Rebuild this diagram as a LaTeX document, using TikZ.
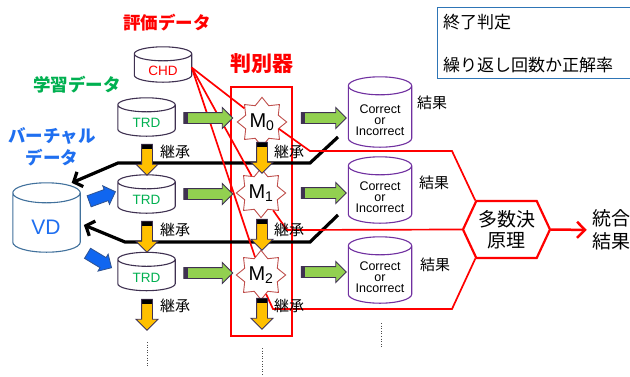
\documentclass[tikz,border=0pt]{standalone}
\usepackage{fontspec}
\setmainfont{Liberation Sans}
\newfontfamily\jp{Noto Sans CJK JP}
\usetikzlibrary{shapes.geometric,shapes.arrows,shapes.symbols,arrows.meta,calc}
\pgfdeclarelayer{bg}
\pgfsetlayers{bg,main}
\definecolor{cgreen}{HTML}{00B050}
\definecolor{cblue}{HTML}{1F6FF0}
\definecolor{cylpurple}{HTML}{3F3151}
\definecolor{respurple}{HTML}{7030A0}
\definecolor{vdblue}{HTML}{41719C}
\definecolor{starred}{HTML}{C0504D}
\definecolor{agreen}{HTML}{92D050}
\definecolor{ayellow}{HTML}{FFC000}
\definecolor{aoutline}{HTML}{3F3151}
\definecolor{ablue}{HTML}{1066F0}
\definecolor{ablueline}{HTML}{2F528F}
\definecolor{boxblue}{HTML}{2E75B6}
\newcommand\drawcyl[3]{%
 \begin{pgfonlayer}{bg}
 \path[draw=#2, line width=1.1pt, fill=white] let \p1=(#1.north west), \p2=(#1.south east), \n1={(\x2-\x1)/2} in
   (\x1,\y1-#3) -- (\x1,\y2+#3) arc[start angle=180, end angle=360, x radius=\n1, y radius=#3]
   -- (\x2,\y1-#3) arc[start angle=0, end angle=180, x radius=\n1, y radius=#3] -- cycle
   (\x1,\y1-#3) arc[start angle=180, end angle=360, x radius=\n1, y radius=#3];
 \end{pgfonlayer}}
\begin{document}
\lineskiplimit=-30pt\relax
\begin{tikzpicture}[x=1pt,y=1pt,
  lab/.style={font=\jp\bfseries\fontsize{17.5}{22}\selectfont, align=center, inner sep=0pt},
  smalljp/.style={font=\jp\fontsize{15}{18}\selectfont, inner sep=0pt},
  cyl/.style={inner sep=0pt},
  redline/.style={draw=red, line width=1.7pt},
  blackline/.style={draw=black, line width=3.2pt, -{Straight Barb[length=7pt,width=16pt]}},
  garrow/.style={single arrow, draw=aoutline, fill=agreen, line width=0.9pt,
    minimum width=20pt, single arrow head extend=5pt, inner sep=5pt,
    path picture={\fill[aoutline] (path picture bounding box.south west) rectangle ([xshift=4pt]path picture bounding box.north west);}},
  yarrow/.style={single arrow, shape border rotate=270, draw=aoutline, fill=ayellow, line width=0.9pt,
    minimum height=31pt, minimum width=21pt, single arrow head extend=5.5pt, inner sep=5pt,
    path picture={\fill[black] (path picture bounding box.north west) rectangle ([yshift=-5pt]path picture bounding box.north east);}},
  barrow/.style={single arrow, draw=ablueline, fill=ablue, line width=0.8pt,
    minimum height=28pt, minimum width=19pt, single arrow head extend=4pt, inner sep=5.5pt},
  mstar/.style={star, star points=8, star point ratio=1.4, minimum size=46pt, draw=starred, fill=white,
    line width=0.9pt, inner sep=0pt, font=\fontsize{20}{20}\selectfont},
  restext/.style={align=center, inner sep=0pt, font=\fontsize{12.5}{11}\selectfont},
  dots/.style={draw=black!70, line width=1pt, dash pattern=on 1pt off 1.6pt}
]
\useasboundingbox (0,0) rectangle (630,-376);

% end-condition box
\node[draw=boxblue, line width=1.2pt, minimum width=200pt, minimum height=71pt, anchor=north west] (endbox) at (437,-7) {};
\node[smalljp, font=\jp\fontsize{17}{20}\selectfont, anchor=west] (end1) at (443,-22) {終了判定};
\node[smalljp, font=\jp\fontsize{17}{20}\selectfont, anchor=west] (end2) at (443,-65) {繰り返し回数か正解率};

% labels
\node[lab, text=red] (leval) at (167,-23) {評価データ};
\node[lab, text=cgreen] (llearn) at (77,-85) {学習データ};
\node[lab, text=cblue] (lvirt) at (52,-147) {バーチャル\\データ};
\node[lab, text=red, font=\jp\bfseries\fontsize{21}{24}\selectfont] (ldisc) at (262,-64) {判別器};

% discriminator box
\node[draw=red, line width=1.2pt, minimum width=61pt, minimum height=249pt, inner sep=0pt] (dbox) at (261.5,-211.5) {};

% cylinders
\node[cyl, minimum width=57pt, minimum height=35pt] (chd) at (163,-64.5) {};
\node[cyl, minimum width=57pt, minimum height=38pt] (trd1) at (146.5,-117) {};
\node[cyl, minimum width=57pt, minimum height=38pt] (trd2) at (146.5,-194) {};
\node[cyl, minimum width=57pt, minimum height=38pt] (trd3) at (146.5,-271.5) {};
\node[cyl, minimum width=67pt, minimum height=69pt] (vd) at (46.5,-217.5) {};
\node[cyl, minimum width=63pt, minimum height=70pt] (res1) at (380,-112) {};
\node[cyl, minimum width=63pt, minimum height=66pt] (res2) at (380,-190) {};
\node[cyl, minimum width=63pt, minimum height=66pt] (res3) at (380,-270) {};
\drawcyl{chd}{cylpurple}{7pt}
\drawcyl{trd1}{cylpurple}{7pt}
\drawcyl{trd2}{cylpurple}{7pt}
\drawcyl{trd3}{cylpurple}{7pt}
\drawcyl{vd}{vdblue}{10pt}
\drawcyl{res1}{respurple}{9pt}
\drawcyl{res2}{respurple}{9pt}
\drawcyl{res3}{respurple}{9pt}
\node[text=red, font=\fontsize{13.5}{14}\selectfont, inner sep=0pt] (chdt) at (163,-71) {CHD};
\node[text=cgreen, font=\fontsize{13.5}{14}\selectfont, inner sep=0pt] (trd1t) at (146.5,-123) {TRD};
\node[text=cgreen, font=\fontsize{13.5}{14}\selectfont, inner sep=0pt] (trd2t) at (146.5,-200) {TRD};
\node[text=cgreen, font=\fontsize{13.5}{14}\selectfont, inner sep=0pt] (trd3t) at (146.5,-278) {TRD};
\node[text=cblue, font=\fontsize{21}{22}\selectfont, inner sep=0pt] (vdt) at (46,-227) {VD};
\node[restext] (res1t) at (380,-120) {Correct\\or\\Incorrect};
\node[restext] (res2t) at (380,-197) {Correct\\or\\Incorrect};
\node[restext] (res3t) at (380,-277) {Correct\\or\\Incorrect};
\node[smalljp] (k1) at (432,-103) {結果};
\node[smalljp] (k2) at (434,-183) {結果};
\node[smalljp] (k3) at (435,-265) {結果};

% stars
\node[mstar] (m0) at (262,-122) {M\textsubscript{0}};
\node[mstar] (m1) at (261,-193) {M\textsubscript{1}};
\node[mstar] (m2) at (261,-275) {M\textsubscript{2}};

% majority vote hexagon
\node[signal, signal to=east and west, signal pointer angle=130, draw=red, line width=2.2pt, fill=white,
  minimum width=87pt, minimum height=57pt, inner sep=0pt, align=center,
  font=\jp\fontsize{19}{21}\selectfont] (hex) at (506.5,-229.5) {多数決\\原理};
\node[align=center, inner sep=0pt, font=\jp\fontsize{19}{23}\selectfont] (final) at (611,-230) {統合\\結果};
\draw[red, line width=2.5pt, -{Straight Barb[length=8pt,width=16pt]}, shorten >=5pt] (hex.east) -- (final.west);

% black return lines
\coordinate (b1s) at (338,-137);
\coordinate (b1a) at (310,-163);
\coordinate (b1b) at (118,-163);
\coordinate (b2s) at (338,-215);
\coordinate (b2a) at (310,-242);
\coordinate (b2b) at (125,-242);
\draw[blackline] (b1s) -- (b1a) -- (b1b) -- (vd.54);
\draw[blackline, shorten >=4pt] (b2s) -- (b2a) -- (b2b) -- (vd.-10);

% red lines from CHD
\coordinate (chdp) at ($(chd.east)+(0,-3)$);
\draw[redline] (chdp) -- (m0);
\draw[redline] (chdp) -- (m1);
\draw[redline] (chdp) -- (m2);

% red lines to hexagon
\coordinate (r0a) at (310,-151);
\coordinate (r0b) at (452,-151);
\coordinate (r1a) at (287,-230);
\coordinate (r2a) at (273,-309);
\coordinate (r2b) at (452,-309);
\draw[redline] (m0.-22) -- (r0a) -- (r0b) -- (hex.137);
\draw[redline] (m1.-55) -- (r1a) -- (hex.west);
\draw[redline] (m2.-75) -- (r2a) -- (r2b) -- (hex.223);

% green arrows
\node[garrow, minimum height=49pt] (g1) at (205.5,-118) {};
\node[garrow, minimum height=49pt] (g2) at (205.5,-194) {};
\node[garrow, minimum height=49pt] (g3) at (205.5,-273) {};
\node[garrow, minimum height=45pt] (g4) at (321,-118) {};
\node[garrow, minimum height=45pt] (g5) at (321,-193) {};
\node[garrow, minimum height=45pt] (g6) at (321,-272) {};

% yellow inheritance arrows
\node[yarrow] (y1) at (147,-157) {};
\node[yarrow] (y2) at (147,-234) {};
\node[yarrow] (y3) at (147,-312) {};
\node[yarrow] (y4) at (262,-155) {};
\node[yarrow] (y5) at (262,-232) {};
\node[yarrow] (y6) at (262,-311) {};
\node[smalljp] (i1) at (175,-152) {継承};
\node[smalljp] (i2) at (175,-230) {継承};
\node[smalljp] (i3) at (175,-306) {継承};
\node[smalljp] (i4) at (289,-152) {継承};
\node[smalljp] (i5) at (289,-230) {継承};
\node[smalljp] (i6) at (289,-306) {継承};

% blue arrows from VD
\node[barrow, rotate=20] (bl1) at (99.5,-197.5) {};
\node[barrow, rotate=-31] (bl2) at (97,-259) {};

% continuation dots
\coordinate (d1a) at (147,-342);
\coordinate (d1b) at (147,-367);
\coordinate (d2a) at (262,-348);
\coordinate (d2b) at (262,-376);
\coordinate (d3a) at (381,-323);
\coordinate (d3b) at (381,-348);
\draw[dots] (d1a) -- (d1b);
\draw[dots] (d2a) -- (d2b);
\draw[dots] (d3a) -- (d3b);
\end{tikzpicture}
\end{document}
